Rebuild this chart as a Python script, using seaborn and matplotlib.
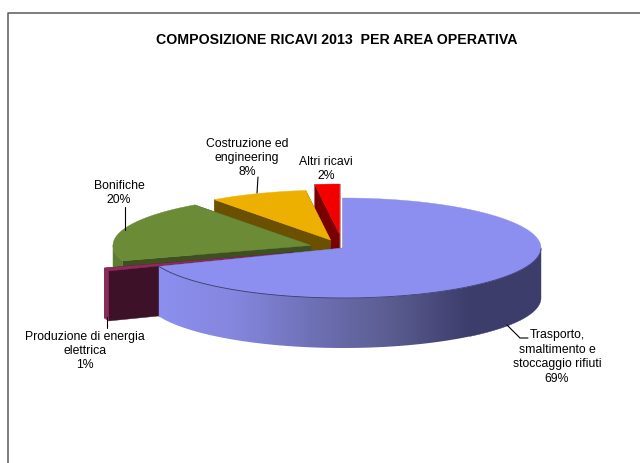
import numpy as np
import seaborn as sns
import matplotlib
matplotlib.use('Agg')
import matplotlib.pyplot as plt

sns.set_theme(style='white')
plt.rcParams['font.family'] = ['Liberation Sans', 'DejaVu Sans']

titolo = 'COMPOSIZIONE RICAVI 2013  PER AREA OPERATIVA'
aree = ['Trasporto,\nsmaltimento e\nstoccaggio rifiuti', 'Produzione di energia\nelettrica', 'Bonifiche',
        'Costruzione ed\nengineering', 'Altri ricavi']
quote = [69, 1, 20, 8, 2]

# stile fette
esplosione = [0, 0.27, 0.17, 0.17, 0.28]
col_top = ['#8C8FEF', '#8E2A5A', '#6B8B37', '#EEB000', '#F20000']
col_lato = ['#3C3D6B', '#3D1228', '#3E5020', '#6B5000', '#7A0000']
col_parete = [None, '#8E2A5A', '#5F7D30', None, None]
pos_label = [(557, 357), (85, 351), (119, 193), (247, 158), (326, 169)]
leader = [[(507, 325), (520, 338), (528, 338)], [(107, 317), (107, 328)], [(125, 207), (125, 230)],
          [(258, 177), (257, 193)]]

cx, cy, a, b, h = 343, 248, 198, 50, 50


def punto(t, ox, oy):
    return ox + a * np.sin(t), oy - b * np.cos(t)


fig = plt.figure(figsize=(6.4, 4.63), dpi=100)
ax = fig.add_axes([0, 0, 1, 1])
ax.set_xlim(0, 640)
ax.set_ylim(463, 0)
ax.axis('off')

ax.plot([7.5, 7.5, 640], [463, 13, 13], color='#5A5A5A', lw=1.1)

limiti = np.radians(np.cumsum([0] + quote) * 3.6)
gradiente = sns.blend_palette(['#8C8FEF', '#8486DE', '#6E70B5', '#5A5C90', '#3C3D6B'], n_colors=256)

# si disegna dal fondo verso il davanti
z = 2
for i in [4, 3, 2, 1, 0]:
    t0, t1 = limiti[i], limiti[i + 1]
    mid = (t0 + t1) / 2
    ox = cx + esplosione[i] * a * np.sin(mid)
    oy = cy - esplosione[i] * b * np.cos(mid)

    for t in (t0, t1):
        px, py = punto(t, ox, oy)
        ax.fill([ox, px, px, ox], [oy, py, py + h, oy + h], color=col_lato[i], lw=0.3, zorder=z)

    # parete esterna, solo la parte davanti
    w0, w1 = max(t0, np.pi / 2), min(t1, 1.5 * np.pi)
    if w1 > w0:
        tt = np.linspace(w0, w1, 200)
        xs, ys = punto(tt, ox, oy)
        if i == 0:
            sagoma = ax.fill(np.r_[xs, xs[::-1]], np.r_[ys, ys[::-1] + h], color='none', zorder=z)[0]
            img = ax.imshow(np.array(gradiente)[None, :, :], extent=(158, 470, 400, 200), aspect='auto', zorder=z + 0.1)
            img.set_clip_path(sagoma)
            # oltre la fine del gradiente il colore resta quello scuro
            resto = ax.fill(np.r_[xs[xs >= 469], xs[xs >= 469][::-1]], np.r_[ys[xs >= 469], ys[xs >= 469][::-1] + h],
                            color=col_lato[0], lw=0.3, zorder=z + 0.2)
        else:
            ax.fill(np.r_[xs, xs[::-1]], np.r_[ys, ys[::-1] + h], color=col_parete[i], lw=0.3, zorder=z)

    tt = np.linspace(t0, t1, 200)
    xs, ys = punto(tt, ox, oy)
    ax.fill(np.r_[ox, xs], np.r_[oy, ys], facecolor=col_top[i], edgecolor=col_top[i], lw=0.3, zorder=z + 0.5)
    if i == 0:
        davanti = tt > np.pi / 2
        ax.plot(xs[davanti], ys[davanti], color=col_lato[0], lw=0.6, zorder=z + 0.6)
    z += 1

ax.set_xlim(0, 640)
ax.set_ylim(463, 0)

for seg in leader:
    ax.plot(*zip(*seg), color='black', lw=0.8, zorder=20)

ax.text(336.5, 39.5, titolo, ha='center', va='center', fontsize=10.2, fontweight='bold', color='black', zorder=21)
for nome, q, (x, y) in zip(aree, quote, pos_label):
    ax.text(x, y, f'{nome}\n{q}%', ha='center', va='center', fontsize=8.8, color='black', linespacing=1.26, zorder=21)

fig.savefig('out.png', dpi=100)
